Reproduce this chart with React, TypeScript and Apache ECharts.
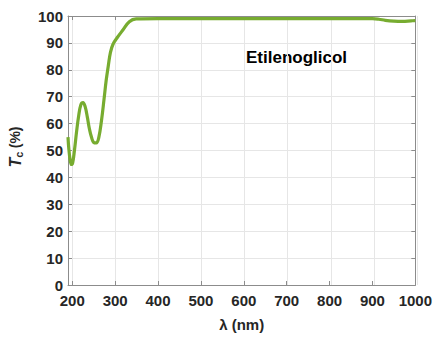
import React, { useEffect, useRef } from "react";
import * as echarts from "echarts";

// Wavelength (nm) and collimated transmittance (%) of ethylene glycol
const wavelength = [
  190, 192, 195, 198, 201, 205, 210, 215, 220, 225, 230, 235, 240, 245, 250,
  256, 262, 268, 274, 279, 284, 289, 295, 305, 318, 333, 349, 400, 500, 600,
  700, 800, 900, 915, 930, 950, 970, 990, 1000,
];
const transmittance = [
  55, 50.5, 46.5, 44.8, 45.5, 50, 57, 63, 67, 67.8, 66.3, 62.5, 58, 54.8, 53,
  52.8, 55, 61, 69, 76, 81.5, 86.5, 89.5, 92, 94.8, 97.9, 98.9, 99, 99, 99,
  99, 99, 99, 98.8, 98.4, 98.1, 98.0, 98.2, 98.3,
];
const xTicks = [200, 300, 400, 500, 600, 700, 800, 900, 1000];
const sampleName = "Etilenoglicol";

const FONT = "'Liberation Sans', Arial, sans-serif";
const TEXT = "#262626";
const AXIS = "#8c8c8c";
const GRID = "#e6e6e6";

const X_MIN = 190;
const X_MAX = 1000;

export default function App() {
  const ref = useRef<HTMLDivElement>(null);
  useEffect(() => {
    if (!ref.current) return;
    document.body.style.margin = "0";
    const chart = echarts.init(ref.current, undefined, { renderer: "svg" });
    const left = 68;
    const top = 16;
    const width = 349;
    const height = 269;
    // second grid spans 200..1000 only, so its split lines fall on the round wavelengths
    const pxPerNm = width / (X_MAX - X_MIN);
    const left2 = left + (xTicks[0] - X_MIN) * pxPerNm;
    const width2 = (X_MAX - xTicks[0]) * pxPerNm;
    const points = wavelength.map((w, i) => [w, transmittance[i]]);
    const labelStyle = {
      color: TEXT,
      fontFamily: FONT,
      fontWeight: "bold" as const,
      fontSize: 15,
    };
    chart.setOption({
      animation: false,
      backgroundColor: "#ffffff",
      grid: [
        { left, top, width, height, containLabel: false },
        { left: left2, top, width: width2, height, containLabel: false },
      ],
      xAxis: [
        {
          type: "value",
          gridIndex: 0,
          min: X_MIN,
          max: X_MAX,
          axisLine: { show: true, onZero: false, lineStyle: { color: AXIS, width: 1 } },
          axisTick: { show: true, inside: true, length: 4, customValues: xTicks, lineStyle: { color: AXIS } },
          axisLabel: {
            ...labelStyle,
            margin: 8,
            customValues: xTicks,
            formatter: (v: number) => String(v),
          },
          splitLine: { show: false },
          name: "λ (nm)",
          nameLocation: "middle",
          nameGap: 32,
          nameTextStyle: { ...labelStyle },
        },
        {
          type: "value",
          gridIndex: 0,
          position: "top",
          min: X_MIN,
          max: X_MAX,
          axisLine: { show: true, onZero: false, lineStyle: { color: AXIS, width: 1 } },
          axisTick: { show: true, inside: true, length: 4, customValues: xTicks, lineStyle: { color: AXIS } },
          axisLabel: { show: false, customValues: xTicks },
          splitLine: { show: false },
        },
        {
          type: "value",
          gridIndex: 1,
          min: xTicks[0],
          max: X_MAX,
          interval: 100,
          axisLine: { show: false },
          axisTick: { show: false },
          axisLabel: { show: false },
          splitLine: { show: true, lineStyle: { color: GRID, width: 1 } },
        },
      ],
      yAxis: [
        {
          type: "value",
          gridIndex: 0,
          min: 0,
          max: 100,
          interval: 10,
          axisLine: { show: true, onZero: false, lineStyle: { color: AXIS, width: 1 } },
          axisTick: { show: true, inside: true, length: 4, lineStyle: { color: AXIS } },
          axisLabel: { ...labelStyle, margin: 5 },
          splitLine: { show: true, lineStyle: { color: GRID, width: 1 } },
        },
        {
          type: "value",
          gridIndex: 0,
          position: "right",
          min: 0,
          max: 100,
          interval: 10,
          axisLine: { show: true, onZero: false, lineStyle: { color: AXIS, width: 1 } },
          axisTick: { show: true, inside: true, length: 4, lineStyle: { color: AXIS } },
          axisLabel: { show: false },
          splitLine: { show: false },
        },
        {
          type: "value",
          gridIndex: 1,
          min: 0,
          max: 100,
          show: false,
        },
      ],
      series: [
        {
          type: "line",
          xAxisIndex: 0,
          yAxisIndex: 0,
          data: points,
          smooth: 0.4,
          showSymbol: false,
          lineStyle: { color: "#77ac30", width: 3.2 },
          z: 5,
        },
      ],
      graphic: [
        {
          type: "text",
          left: 246,
          top: 49,
          style: {
            text: sampleName,
            fill: "#000000",
            font: `bold 17px ${FONT}`,
          },
        },
        {
          type: "text",
          x: 15,
          y: 147,
          rotation: Math.PI / 2,
          style: {
            text: "{i|T}{s|c} {n|(%)}",
            align: "center",
            verticalAlign: "middle",
            rich: {
              i: { font: `italic bold 16px ${FONT}`, fill: TEXT },
              s: { font: `bold 11px ${FONT}`, fill: TEXT, padding: [8, 0, 0, 0] },
              n: { font: `bold 14px ${FONT}`, fill: TEXT },
            },
          },
        },
      ],
    });
    return () => chart.dispose();
  }, []);
  return <div ref={ref} style={{ width: 435, height: 338 }} />;
}
